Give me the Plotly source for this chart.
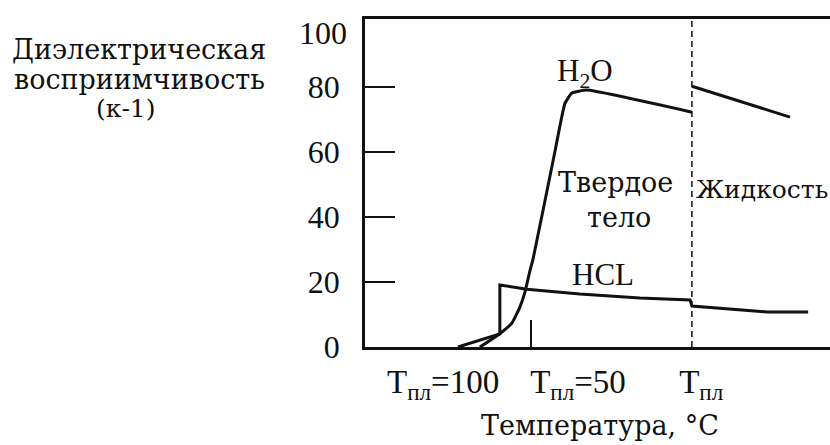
import plotly.graph_objects as go

# ---- data (arbitrary temperature scale 0..100, left to right) ----
h2o_solid_x = [24.7, 28.6, 31.6, 33.3, 34.4, 35.5, 36.1, 40.9, 43.0, 44.5, 47.7, 70.3]
h2o_solid_y = [0.0, 3.7, 7.4, 12.3, 16.9, 23.7, 26.8, 60.6, 75.0, 78.2, 79.1, 72.3]
h2o_liquid_x = [70.3, 91.4]
h2o_liquid_y = [80.3, 70.8]

hcl_x = [20.0, 29.0, 29.0, 34.8, 46.2, 59.1, 69.9, 70.3, 86.5, 95.3]
hcl_y = [0.0, 4.0, 19.1, 17.8, 16.3, 15.1, 14.5, 12.6, 10.8, 10.8]

melt_line_x = 70.3          # dashed line (melting point of ice)
inner_tick_x = [35.7]       # small inner tick on x axis
y_ticks = [0, 20, 40, 60, 80]
y_top_label = 100
x_label_pos = [16.8, 45.8, 72.3]
x_label_text = ["T<sub>пл</sub>=100", "T<sub>пл</sub>=50", "T<sub>пл</sub>"]

FONT = "Liberation Serif"
CYR = "DejaVu Serif"
BLACK = "#111111"

fig = go.Figure()
line_style = dict(color=BLACK, width=3)
fig.add_trace(go.Scatter(x=h2o_solid_x, y=h2o_solid_y, mode="lines",
                         line=dict(color=BLACK, width=3, shape="spline", smoothing=0.4)))
fig.add_trace(go.Scatter(x=h2o_liquid_x, y=h2o_liquid_y, mode="lines", line=line_style))
fig.add_trace(go.Scatter(x=hcl_x, y=hcl_y, mode="lines", line=line_style))
fig.add_trace(go.Scatter(x=[melt_line_x, melt_line_x], y=[0, 101], mode="lines",
                         line=dict(color=BLACK, width=1.5, dash="6px,4px")))

fig.update_layout(
    width=830, height=445,
    margin=dict(l=365, r=0, t=19, b=98),
    paper_bgcolor="white", plot_bgcolor="white",
    showlegend=False,
    font=dict(family=FONT, color=BLACK, size=30),
    xaxis=dict(range=[0, 100], showgrid=False, zeroline=False,
               showline=True, linecolor=BLACK, linewidth=2.5, mirror=True,
               tickmode="array", tickvals=x_label_pos, ticktext=x_label_text,
               ticks="", ticklabelstandoff=4,
               tickfont=dict(family=FONT, size=33, color=BLACK),
               minor=dict(tickvals=inner_tick_x, ticks="inside", ticklen=27,
                          tickwidth=1.5, tickcolor=BLACK)),
    yaxis=dict(range=[0, 101], showgrid=False, zeroline=False,
               showline=True, linecolor=BLACK, linewidth=2.5, mirror=False,
               tickmode="array", tickvals=y_ticks, ticks="inside", ticklen=30,
               tickwidth=1.5, tickcolor=BLACK, ticklabelstandoff=16,
               tickfont=dict(family=FONT, size=32, color=BLACK)),
)

ann = []
ann.append(dict(x=0, y=96.6, xref="x", yref="y", text=str(y_top_label), showarrow=False,
                xanchor="right", yanchor="middle", xshift=-16,
                font=dict(family=FONT, size=32, color=BLACK)))
# y-axis title (three lines), positions in pixels converted to paper coords
ylab = [("Диэлектрическая", 139, 50, 27), ("восприимчивость", 139, 79, 27),
        ("(к-1)", 126, 108, 25)]
for t, px, py, s in ylab:
    ann.append(dict(x=(px - 365) / 465, y=(347 - py) / 328, xref="paper", yref="paper",
                    text=t, showarrow=False, xanchor="center", yanchor="middle",
                    font=dict(family=CYR, size=s, color=BLACK)))
# in-plot labels
inplot = [("H<sub>2</sub>O", 47.3, 84.3, 31, FONT), ("Твердое", 53.8, 50.8, 27, CYR),
          ("тело", 54.6, 40.0, 27, CYR), ("Жидкость", 85.4, 48.6, 25, CYR),
          ("HCL", 51.2, 22.2, 31, FONT)]
for t, x, y, s, f in inplot:
    ann.append(dict(x=x, y=y, xref="x", yref="y", text=t, showarrow=False,
                    xanchor="center", yanchor="middle",
                    font=dict(family=f, size=s, color=BLACK)))
ann.append(dict(x=(600 - 365) / 465, y=(347 - 426) / 328, xref="paper", yref="paper",
                text="Температура, °C", showarrow=False, xanchor="center", yanchor="middle",
                font=dict(family=CYR, size=27, color=BLACK)))
fig.update_layout(annotations=ann)

fig.write_html("out.html", config={"displayModeBar": False},
               post_script="document.body.style.margin='0';document.body.style.overflow='hidden';")
